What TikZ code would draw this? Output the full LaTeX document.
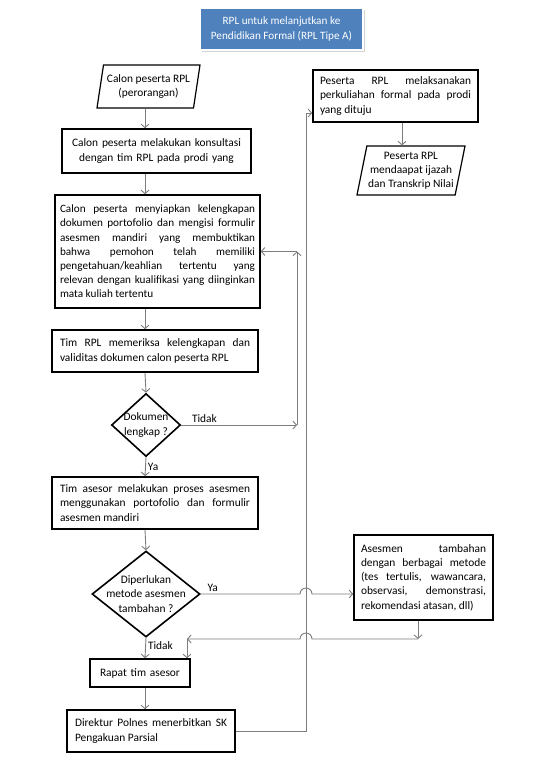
\documentclass[tikz,border=0pt]{standalone}
\usepackage{fontspec}
\setmainfont{Carlito}
\usetikzlibrary{shapes.geometric,arrows.meta,positioning,calc,shadows}
\definecolor{rplblue}{RGB}{79,129,189}
\definecolor{rplgrey}{RGB}{125,125,125}
\hyphenpenalty=10000
\exhyphenpenalty=10000
\tolerance=10000

\begin{document}
\begin{tikzpicture}[x=1pt, y=-1pt,
    box/.style={rectangle, draw=black, line width=1.6pt, align=justify,
                font={\fontsize{11.4pt}{14.2pt}\selectfont}, inner xsep=8pt, inner ysep=2pt},
    para/.style={trapezium, trapezium left angle=76, trapezium right angle=104,
                 trapezium stretches body, draw=black, line width=1.2pt, align=center,
                 font={\fontsize{11.4pt}{14.2pt}\selectfont}, inner sep=1pt},
    dec/.style={diamond, draw=black, line width=1.6pt, align=center,
                font={\fontsize{11.4pt}{14.6pt}\selectfont}},
    title/.style={rectangle, fill=rplblue, draw=white, line width=1.2pt, text=white,
                  align=center, font={\fontsize{11.2pt}{15pt}\selectfont},
                  minimum width=163pt, minimum height=42pt,
                  drop shadow={opacity=0.35, shadow xshift=1.5pt, shadow yshift=-2pt}},
    lbl/.style={text=black, font={\fontsize{11.4pt}{13pt}\selectfont}, inner sep=2pt},
    arr/.style={-{Straight Barb[length=3.5pt,width=8pt]}, line width=0.9pt, rplgrey}
]
\useasboundingbox (0,0) rectangle (539,763);

\node[title] (judul) at (281.5,29) {RPL untuk melanjutkan ke\\Pendidikan Formal (RPL Tipe A)};

\node[para, minimum width=103pt, minimum height=43pt] (calon) at (148.5,86.5)
    {Calon peserta RPL\\(perorangan)};
\node[box, align=center, text width=173pt, minimum height=44pt] (konsul) at (156.5,151)
    {Calon peserta melakukan konsultasi\\dengan tim RPL pada prodi yang};
\node[box, text width=195pt, inner xsep=5pt, minimum height=113pt] (siap) at (157.5,251.5)
    {\fontsize{11.2pt}{14.2pt}\selectfont
     Calon peserta menyiapkan kelengkapan\linebreak dokumen portofolio dan mengisi formulir\linebreak
     asesmen mandiri yang membuktikan\linebreak bahwa pemohon telah memiliki\linebreak
     pengetahuan/keahlian tertentu yang\linebreak relevan dengan kualifikasi yang diinginkan\linebreak
     mata kuliah tertentu};
\node[box, text width=190pt, minimum height=42pt] (periksa) at (155,351)
    {Tim RPL memeriksa kelengkapan dan\linebreak validitas dokumen calon peserta RPL};
\node[dec, inner sep=-3pt, minimum width=69pt, minimum height=63pt] (lengkap) at (146,425)
    {Dokumen\\lengkap ?};
\node[box, text width=190pt, minimum height=52pt] (proses) at (155,503)
    {Tim asesor melakukan proses asesmen\linebreak menggunakan portofolio dan formulir\linebreak asesmen mandiri};
\node[dec, inner sep=-9pt, minimum width=108pt, minimum height=86pt] (perlu) at (146,594)
    {Diperlukan\\metode asesmen\\tambahan ?};
\node[box, align=center, text width=84pt, minimum height=28pt] (rapat) at (140,673)
    {Rapat tim asesor};
\node[box, text width=152pt, minimum height=42pt] (sk) at (151,731)
    {Direktur Polnes menerbitkan SK\linebreak Pengakuan Parsial};

\node[box, text width=151pt, minimum height=52pt, inner xsep=7pt] (kuliah) at (395.5,96)
    {Peserta RPL melaksanakan\linebreak perkuliahan formal pada prodi\linebreak yang dituju};
\node[para, minimum width=108pt, minimum height=49pt] (ijazah) at (411,170.5)
    {Peserta RPL\\mendaapat ijazah\\dan Transkrip Nilai};
\node[box, text width=125pt, minimum height=85pt, inner xsep=7pt] (tambah) at (423.5,577.5)
    {Asesmen tambahan\linebreak dengan berbagai metode\linebreak (tes tertulis, wawancara,\linebreak
     observasi, demonstrasi,\linebreak rekomendasi atasan, dll)};

\coordinate (axis) at (145,0);
\coordinate (back) at (297,0);
\coordinate (up)   at (306,0);
\coordinate (turun) at (418,639);
\coordinate (gabung) at (187,639);
\coordinate (hasil) at (402,0);

\draw[arr] (calon.south -| axis) -- (konsul.north -| axis);
\draw[arr] (konsul.south -| axis) -- (siap.north -| axis);
\draw[arr] (siap.south -| axis) -- (periksa.north -| axis);
\draw[arr] (periksa.south -| axis) -- (lengkap.north);
\draw[arr] (lengkap.east) -- node[lbl, pos=0.2, above] {Tidak} (lengkap.east -| back);
\draw[arr] (lengkap.east -| back) -- (siap.east -| back);
\draw[arr] (siap.east -| back) -- (siap.east);
\draw[arr] (lengkap.south) -- node[lbl, right] {Ya} (proses.north -| axis);
\draw[arr] (proses.south -| axis) -- (perlu.north);
\draw[arr] (perlu.east) -- node[lbl, pos=0.12, above] {Ya} ($(perlu.east -| up)+(-6,0)$)
    arc[start angle=180, end angle=360, radius=6] -- (perlu.east -| tambah.west);
\draw[arr] (tambah.south -| turun) -- (turun);
\draw[arr] (turun) -- ($(turun -| up)+(6,0)$)
    arc[start angle=0, end angle=-180, radius=6] -- (gabung);
\draw[arr] (gabung) -- (gabung |- rapat.north);
\draw[arr] (perlu.south) -- node[lbl, pos=0.4, right] {Tidak} (rapat.north -| axis);
\draw[arr] (rapat.south -| axis) -- (sk.north -| axis);
\draw[arr] (sk.east) -- (sk.east -| up) -- ($(up |- kuliah.west)+(0,17)$)
    -- ($(kuliah.west)+(0,17)$);
\draw[arr] (kuliah.south -| hasil) -- (hasil |- ijazah.north);
\end{tikzpicture}
\end{document}
